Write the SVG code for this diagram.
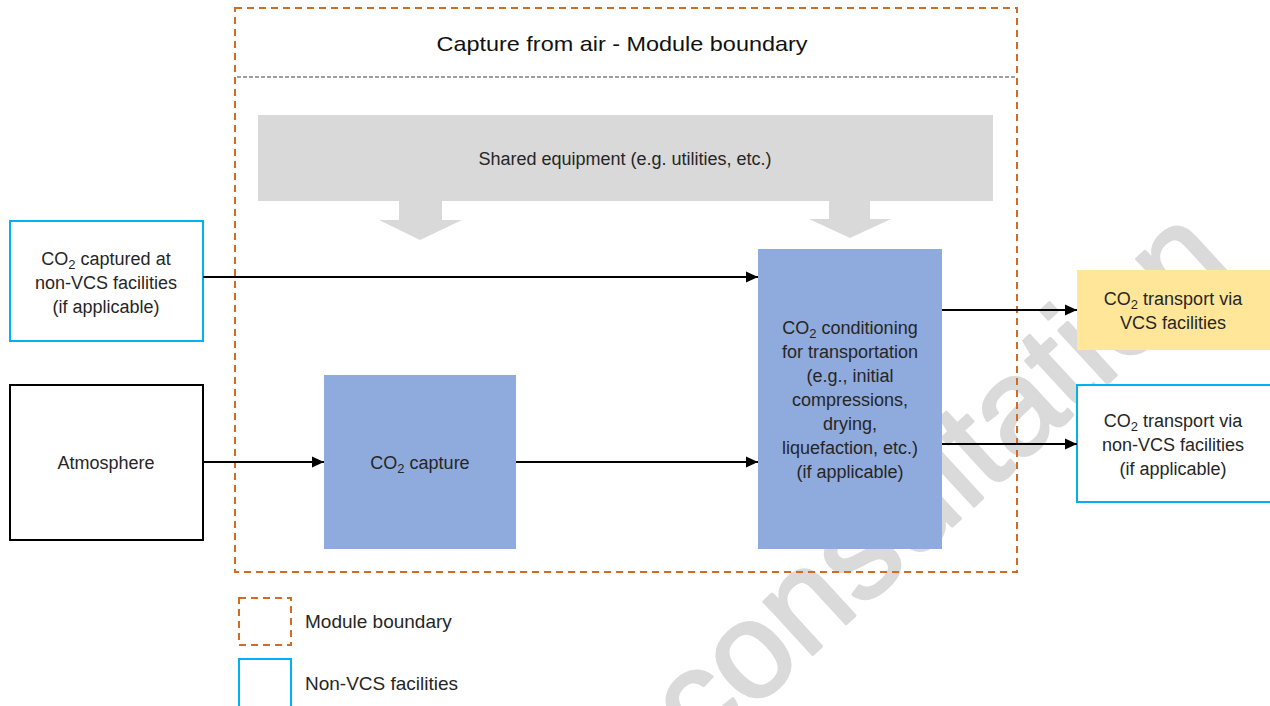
<svg xmlns="http://www.w3.org/2000/svg" width="1270" height="706" viewBox="0 0 1270 706">
<style>
text{font-family:"Liberation Sans",Arial,sans-serif;fill:#262626}
.t{font-size:18px;text-anchor:middle}
.lg{font-size:19px}
.blue{fill:#8FAADC}
.nv{fill:#FFFFFF;stroke:#00B0F0;stroke-width:2}
.mb{fill:none;stroke:#D46A24;stroke-width:2;stroke-dasharray:7 5}
.ln{stroke:#000;stroke-width:2;fill:none;marker-end:url(#ah)}
.wm{font-size:136px;fill:#DADADA;stroke:#DADADA;stroke-width:3;stroke-linejoin:round}
</style>
<defs>
<marker id="ah" markerUnits="userSpaceOnUse" markerWidth="13" markerHeight="13" refX="12" refY="6.5" orient="auto">
<path d="M0,1 L12,6.5 L0,12 Z" fill="#000"/>
</marker>
</defs>
<rect x="0" y="0" width="1270" height="706" fill="#FFFFFF"/>
<g id="watermark">
<text class="wm" x="0" y="0" transform="translate(700,758) rotate(-42.6)">consultation</text>
</g>
<g id="module-boundary">
<rect class="mb" x="235" y="8" width="782" height="564"/>
<line x1="237" y1="77" x2="1017" y2="77" stroke="#404040" stroke-width="1" stroke-dasharray="4 2"/>
<text x="622" y="51" font-size="21" text-anchor="middle" font-weight="500" textLength="371" lengthAdjust="spacingAndGlyphs" style="fill:#111">Capture from air - Module boundary</text>
</g>
<g id="shared-equipment">
<rect x="258" y="115" width="735" height="86" fill="#D9D9D9"/>
<polygon points="399,201 442,201 442,220 462,220 420,240 379,220 399,220" fill="#D9D9D9"/>
<polygon points="829,201 870,201 870,219 891,219 850,238 809,219 829,219" fill="#D9D9D9"/>
<text class="t" x="625" y="165">Shared equipment (e.g. utilities, etc.)</text>
</g>
<g id="co2-captured-nonvcs">
<rect class="nv" x="10" y="221" width="193" height="120"/>
<text class="t" x="106" y="265">CO<tspan font-size="13" dy="4">2</tspan><tspan dy="-4"> captured at</tspan></text>
<text class="t" x="106" y="289">non-VCS facilities</text>
<text class="t" x="106" y="313">(if applicable)</text>
</g>
<g id="atmosphere">
<rect x="10" y="385" width="193" height="155" fill="#FFFFFF" stroke="#000" stroke-width="2"/>
<text class="t" x="106" y="469">Atmosphere</text>
</g>
<g id="co2-capture">
<rect class="blue" x="324" y="375" width="192" height="174"/>
<text class="t" x="420" y="469">CO<tspan font-size="13" dy="4">2</tspan><tspan dy="-4"> capture</tspan></text>
</g>
<g id="co2-conditioning">
<rect class="blue" x="758" y="249" width="184" height="300"/>
<text class="t" x="850" y="334">CO<tspan font-size="13" dy="4">2</tspan><tspan dy="-4"> conditioning</tspan></text>
<text class="t" x="850" y="358">for transportation</text>
<text class="t" x="850" y="382">(e.g., initial</text>
<text class="t" x="850" y="406">compressions,</text>
<text class="t" x="850" y="430">drying,</text>
<text class="t" x="850" y="454">liquefaction, etc.)</text>
<text class="t" x="850" y="478">(if applicable)</text>
</g>
<g id="transport-vcs">
<rect x="1077" y="270" width="200" height="80" fill="#FFE699"/>
<text class="t" x="1173" y="305">CO<tspan font-size="13" dy="4">2</tspan><tspan dy="-4"> transport via</tspan></text>
<text class="t" x="1173" y="329">VCS facilities</text>
</g>
<g id="transport-nonvcs">
<rect class="nv" x="1077" y="385" width="200" height="117"/>
<text class="t" x="1173" y="427">CO<tspan font-size="13" dy="4">2</tspan><tspan dy="-4"> transport via</tspan></text>
<text class="t" x="1173" y="451">non-VCS facilities</text>
<text class="t" x="1173" y="475">(if applicable)</text>
</g>
<g id="connectors">
<line class="ln" x1="203" y1="277" x2="758" y2="277"/>
<line class="ln" x1="203" y1="462" x2="324" y2="462"/>
<line class="ln" x1="516" y1="462" x2="758" y2="462"/>
<line class="ln" x1="942" y1="310" x2="1077" y2="310"/>
<line class="ln" x1="942" y1="444" x2="1077" y2="444"/>
</g>
<g id="legend">
<rect class="mb" x="239" y="598" width="52" height="47"/>
<text class="lg" x="305" y="628">Module boundary</text>
<rect x="239" y="659" width="52" height="60" fill="none" stroke="#00B0F0" stroke-width="2"/>
<text class="lg" x="305" y="690">Non-VCS facilities</text>
</g>
</svg>
